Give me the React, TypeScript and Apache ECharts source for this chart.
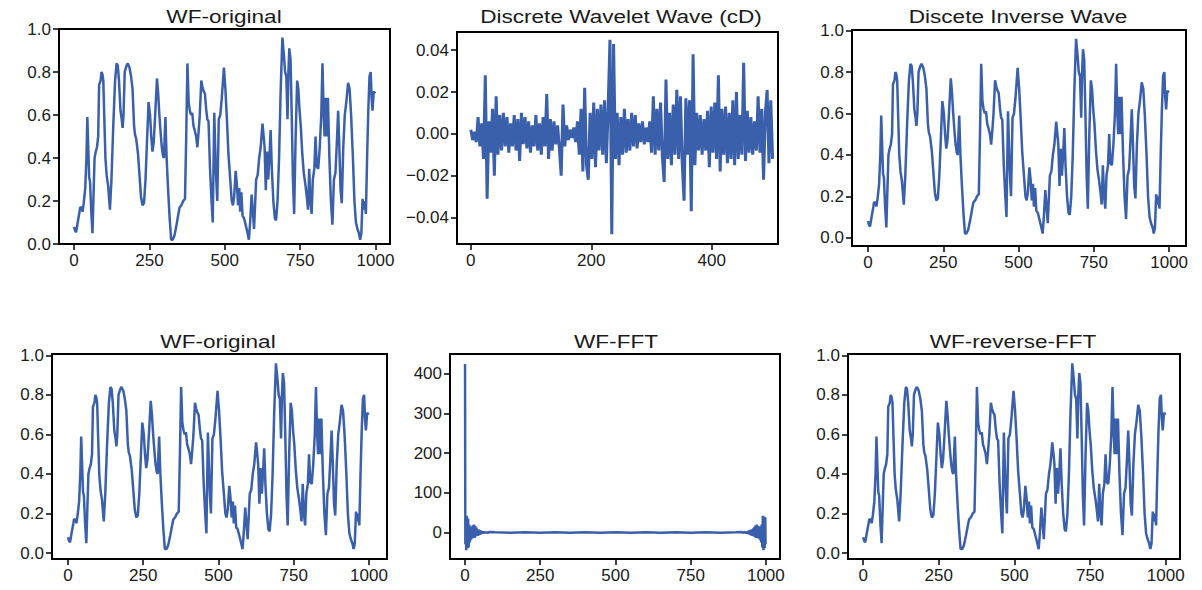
import React, { useEffect, useRef } from "react";
import * as echarts from "echarts";

// ---------- DATA ----------
// WF signal (index, value) — used by the original / inverse / reverse-FFT panels
const wfX = [0,4,7,12,18,20,26,28,32,37,41,44,47,50,53,57,61,64,68,72,76,80,83,88,91,94,97,100,104,108,113,119,124,130,136,141,145,149,154,158,161,164,168,174,178,184,189,194,199,202,206,212,217,222,227,232,237,242,247,252,256,260,264,269,275,279,283,287,291,295,298,303,307,312,317,322,327,333,340,346,350,356,362,368,372,376,380,384,388,392,396,400,405,409,413,417,422,426,430,434,438,442,446,451,456,460,465,470,475,480,485,490,497,502,507,512,518,523,527,531,536,540,544,548,551,555,559,564,569,574,580,584,589,593,597,601,604,609,614,619,625,629,632,636,640,644,648,652,656,661,666,670,675,680,685,691,696,700,704,708,711,714,718,722,726,730,735,740,744,748,752,757,762,767,772,776,780,784,788,792,797,801,805,810,815,820,824,828,831,835,838,842,847,852,857,862,867,871,876,880,884,888,893,898,903,909,914,919,925,930,935,940,945,949,953,957,961,964,968,972,976,980,984,987,990,994,999];
const wfY = [0.08,0.06,0.055,0.1,0.15,0.17,0.17,0.15,0.19,0.26,0.4,0.59,0.45,0.31,0.29,0.15,0.05,0.2,0.4,0.43,0.45,0.5,0.74,0.76,0.8,0.79,0.76,0.6,0.4,0.32,0.27,0.16,0.3,0.55,0.76,0.84,0.83,0.76,0.62,0.58,0.54,0.6,0.8,0.83,0.84,0.82,0.78,0.72,0.55,0.51,0.49,0.42,0.32,0.22,0.18,0.19,0.3,0.48,0.66,0.6,0.5,0.43,0.47,0.6,0.77,0.7,0.6,0.52,0.45,0.41,0.4,0.59,0.4,0.25,0.12,0.02,0.02,0.04,0.09,0.14,0.17,0.18,0.2,0.21,0.5,0.84,0.66,0.62,0.6,0.61,0.55,0.53,0.5,0.45,0.52,0.6,0.76,0.73,0.71,0.7,0.63,0.58,0.57,0.35,0.2,0.1,0.61,0.35,0.2,0.58,0.6,0.68,0.82,0.72,0.58,0.42,0.3,0.2,0.18,0.22,0.34,0.28,0.18,0.26,0.15,0.24,0.13,0.12,0.09,0.06,0.02,0.1,0.23,0.15,0.07,0.2,0.3,0.32,0.4,0.45,0.56,0.5,0.45,0.25,0.43,0.3,0.4,0.53,0.35,0.2,0.12,0.11,0.2,0.4,0.7,0.96,0.88,0.8,0.78,0.58,0.8,0.91,0.86,0.6,0.3,0.14,0.5,0.76,0.72,0.62,0.55,0.42,0.33,0.28,0.22,0.16,0.35,0.2,0.14,0.3,0.35,0.5,0.36,0.35,0.45,0.6,0.84,0.6,0.5,0.68,0.5,0.68,0.4,0.2,0.09,0.3,0.33,0.45,0.62,0.45,0.25,0.19,0.45,0.6,0.66,0.75,0.72,0.6,0.4,0.2,0.1,0.07,0.05,0.02,0.05,0.21,0.16,0.2,0.14,0.4,0.62,0.78,0.8,0.68,0.62,0.71,0.7];

// Discrete wavelet detail coefficients (cD), one value every 3 indices
const cdStep = 3;
const cdY = [
  0.002,-0.003,0.001,-0.004,0.008,-0.006,0.005,-0.012,0.028,-0.031,
  0.006,-0.009,0.012,-0.020,0.018,-0.010,0.009,-0.008,0.010,-0.006,
  0.008,-0.009,0.005,-0.006,0.009,-0.008,0.007,-0.013,0.010,-0.005,
  0.008,-0.007,0.006,-0.009,0.004,-0.006,0.009,-0.008,0.005,-0.010,
  0.008,-0.006,0.019,-0.012,0.007,-0.008,0.006,-0.005,0.004,-0.007,
  -0.020,0.014,-0.006,0.004,-0.003,0.002,-0.002,0.003,-0.004,0.006,
  -0.010,0.012,-0.018,0.022,-0.015,-0.022,0.010,-0.012,0.015,-0.016,
  0.012,-0.008,0.014,-0.010,0.016,-0.014,0.013,0.045,-0.048,0.043,
  -0.012,0.010,-0.015,0.008,-0.010,0.012,-0.009,0.007,-0.008,0.010,
  -0.006,0.009,-0.007,0.005,-0.004,0.006,-0.005,0.003,-0.004,0.006,
  -0.009,0.018,-0.010,0.012,-0.008,0.015,-0.011,-0.023,0.026,-0.012,
  0.010,-0.015,0.014,-0.010,0.021,-0.012,0.018,-0.014,-0.032,0.017,
  -0.010,0.016,-0.037,0.038,-0.015,0.010,-0.008,0.009,-0.010,0.007,
  -0.008,0.011,-0.016,0.013,-0.009,0.015,-0.012,0.028,-0.018,0.012,
  -0.010,0.013,-0.014,0.010,-0.012,0.016,-0.015,0.020,-0.012,0.009,
  -0.010,0.034,-0.013,0.011,-0.009,0.008,-0.010,0.006,-0.008,0.018,
  -0.009,0.012,-0.022,0.010,0.021,-0.014,0.016,-0.012
];

// FFT (real part)
const fftX = [0,1,2,4,6,8,10,12,14,16,18,20,22,24,26,28,30,32,34,36,38,40,42,44,46,48,50,52,54,56,58,60,62,64,66,68,70,75,80,100,150,200,250,300,350,400,450,500,550,600,650,700,750,800,850,900,920,925,930,932,934,936,938,940,942,944,946,948,950,952,954,956,958,960,962,964,966,968,970,972,974,976,978,980,982,984,986,988,990,992,994,996,998,999];
const fftY = [425,-30,40,-45,42,-40,35,-38,20,-25,15,-18,12,-15,18,-12,20,-14,16,-10,12,-9,8,-8,7,-6,6,-5,4,-4,3,-3,3,-2,2,-2,1,-1,1,0.5,-0.5,0.5,-0.5,0.5,-0.5,0.5,-0.5,0.5,-0.5,0.5,-0.5,0.5,-0.5,0.5,-0.5,0.5,1,-1,2,-2,2,-3,3,-4,4,-5,6,-6,7,-8,8,-9,10,-10,14,-12,18,-14,20,-12,16,-15,12,-18,15,-25,20,-38,42,-45,40,-40,38,-30];

const titles = ["WF-original", "Discrete Wavelet Wave (cD)", "Discete Inverse Wave", "WF-original", "WF-FFT", "WF-reverse-FFT"];
const xTicksLong = [0, 250, 500, 750, 1000];
const xTicksCd = [0, 200, 400];
const yTicksUnit = [0, 0.2, 0.4, 0.6, 0.8, 1.0];
const yTicksCd = [-0.04, -0.02, 0, 0.02, 0.04];
const yTicksFft = [0, 100, 200, 300, 400];

// ---------- LAYOUT ----------
const panels = [
  { left: 59, top: 29, width: 331, height: 215, xMin: -50, xMax: 1048, yMin: 0, yMax: 1.0, tx: 224, ty: 16 },
  { left: 457, top: 32, width: 321, height: 212, xMin: -23, xMax: 510, yMin: -0.0527, yMax: 0.0487, tx: 621, ty: 16 },
  { left: 852, top: 30, width: 334, height: 216, xMin: -53, xMax: 1056, yMin: -0.04, yMax: 1.003, tx: 1018, ty: 16 },
  { left: 52, top: 354, width: 335, height: 205, xMin: -53, xMax: 1060, yMin: -0.03, yMax: 1.007, tx: 218, ty: 341 },
  { left: 450, top: 354, width: 330, height: 205, xMin: -50, xMax: 1047, yMin: -67, yMax: 450, tx: 616, ty: 341 },
  { left: 848, top: 354, width: 332, height: 205, xMin: -50, xMax: 1047, yMin: -0.03, yMax: 1.007, tx: 1013, ty: 341 },
];

const FONT = "'Liberation Sans', Arial, Helvetica, sans-serif";
const LINE = "#3a5fab";
const TEXT = "#1a1a1a";
const minus = (s: string) => s.replace("-", "\u2212");

export default function App() {
  const ref = useRef<HTMLDivElement>(null);
  useEffect(() => {
    if (!ref.current) return;
    const chart = echarts.init(ref.current, undefined, { renderer: "svg" });

    const wfData = wfX.map((x, i) => [x, wfY[i]]);
    const cdData = cdY.map((v, i) => [i * cdStep, v]);
    const fftData = fftX.map((x, i) => [x, fftY[i]]);
    const seriesData = [wfData, cdData, wfData, wfData, fftData, wfData];
    const xTicks = [xTicksLong, xTicksCd, xTicksLong, xTicksLong, xTicksLong, xTicksLong];
    const yTicks = [yTicksUnit, yTicksCd, yTicksUnit, yTicksUnit, yTicksFft, yTicksUnit];
    const yFmt = [
      (v: number) => v.toFixed(1),
      (v: number) => minus(v.toFixed(2)),
      (v: number) => v.toFixed(1),
      (v: number) => v.toFixed(1),
      (v: number) => String(Math.round(v)),
      (v: number) => v.toFixed(1),
    ];

    const axisCommon = (ticks: number[], fmt: (v: number) => string, gi: number) => ({
      type: "value" as const,
      gridIndex: gi,
      axisLine: { show: true, onZero: false, lineStyle: { color: "#000", width: 2 } },
      axisTick: { show: true, inside: false, length: 6, customValues: ticks, lineStyle: { color: "#000", width: 1.5 } },
      axisLabel: { customValues: ticks, formatter: fmt, fontSize: 17, color: TEXT, fontFamily: FONT, margin: 8 },
      splitLine: { show: false },
    });

    chart.setOption({
      animation: false,
      backgroundColor: "#fff",
      grid: panels.map((p) => ({
        left: p.left, top: p.top, width: p.width, height: p.height,
        show: true, borderColor: "#000", borderWidth: 2, backgroundColor: "transparent",
      })),
      xAxis: panels.map((p, i) => ({
        ...axisCommon(xTicks[i], (v: number) => String(Math.round(v)), i),
        min: p.xMin, max: p.xMax,
      })),
      yAxis: panels.map((p, i) => ({
        ...axisCommon(yTicks[i], yFmt[i], i),
        min: p.yMin, max: p.yMax,
      })),
      series: panels.map((_, i) => ({
        type: "line",
        xAxisIndex: i,
        yAxisIndex: i,
        data: seriesData[i],
        showSymbol: false,
        symbol: "none",
        lineStyle: { color: LINE, width: i === 1 ? 3 : 2.5 },
        clip: true,
      })),
      graphic: panels.map((p, i) => ({
        type: "text",
        x: p.tx,
        y: p.ty,
        scaleX: 1.22,
        style: {
          text: titles[i],
          font: `18.5px ${FONT}`,
          fill: TEXT,
          align: "center",
          verticalAlign: "middle",
        },
      })),
    });
    return () => chart.dispose();
  }, []);
  return <div ref={ref} style={{ position: "fixed", left: 0, top: 0, width: 1202, height: 590, background: "#fff" }} />;
}
